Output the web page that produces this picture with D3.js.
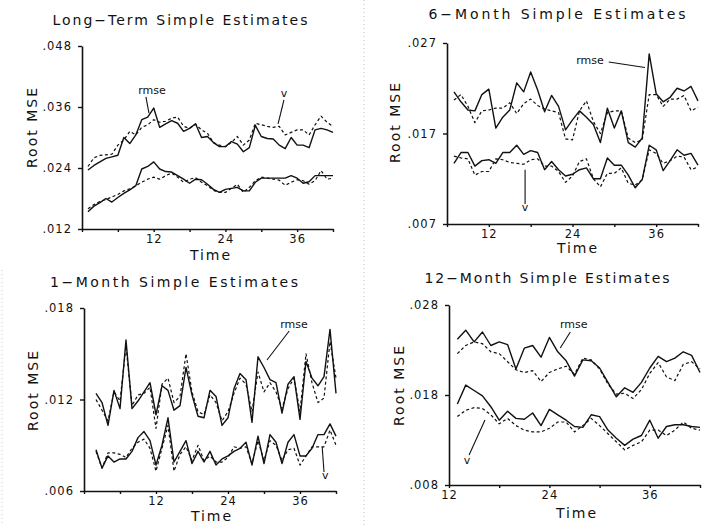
<!DOCTYPE html>
<html>
<head>
<meta charset="utf-8">
<script src="https://cdn.jsdelivr.net/npm/d3@7"></script>
<style>
body { margin: 0; background: #fff; }
svg { display: block; font-family: "DejaVu Sans", sans-serif; }
</style>
</head>
<body>
<svg id="chart" width="712" height="525"></svg>
<script>
// series, one value per time step
const longTermStart = 1;
const longTermRmse = [.0236,.0245,.0252,.0259,.0262,.0265,.0300,.0288,.0305,.0335,.0340,.0358,.0320,.0327,.0333,.0328,.0312,.0318,.0327,.0300,.0302,.0290,.0282,.0282,.0292,.0287,.0272,.0280,.0324,.0302,.0298,.0297,.0285,.0278,.0300,.0285,.0285,.0280,.0315,.0318,.0315,.0310];
const longTermV = [.0243,.0260,.0265,.0266,.0267,.0285,.0295,.0312,.0305,.0320,.0325,.0335,.0330,.0332,.0338,.0340,.0322,.0318,.0326,.0315,.0308,.0290,.0285,.0282,.0290,.0302,.0285,.0295,.0328,.0325,.0322,.0320,.0322,.0305,.0310,.0315,.0315,.0305,.0325,.0342,.0330,.0322];
const longTermRmseLow = [.0154,.0165,.0172,.0180,.0173,.0182,.0190,.0197,.0205,.0238,.0243,.0252,.0238,.0233,.0232,.0225,.0218,.0210,.0218,.0217,.0208,.0198,.0192,.0198,.0200,.0202,.0195,.0195,.0212,.0220,.0220,.0220,.0220,.0220,.0225,.0220,.0210,.0213,.0225,.0225,.0225,.0225];
const longTermVLow = [.0160,.0168,.0174,.0178,.0183,.0188,.0195,.0199,.0205,.0212,.0218,.0222,.0218,.0225,.0230,.0222,.0212,.0218,.0221,.0212,.0205,.0196,.0192,.0192,.0200,.0208,.0192,.0202,.0215,.0222,.0220,.0218,.0216,.0206,.0212,.0217,.0215,.0208,.0215,.0235,.0218,.0220];

const sixMonthStart = 7;
const sixMonthRmse = [.0216,.0205,.0196,.0195,.0213,.0219,.0176,.0188,.0196,.0226,.0216,.0238,.0218,.0194,.0212,.0200,.0174,.0185,.0195,.0188,.0180,.0160,.0198,.0176,.0195,.0160,.0155,.0165,.0258,.0214,.0205,.0210,.0220,.0217,.0222,.0206];
const sixMonthV = [.0207,.0213,.0200,.0182,.0195,.0196,.0198,.0198,.0204,.0192,.0203,.0208,.0201,.0197,.0195,.0193,.0164,.0163,.0195,.0206,.0183,.0170,.0193,.0195,.0195,.0165,.0160,.0163,.0213,.0213,.0200,.0208,.0208,.0212,.0195,.0199];
const sixMonthRmseLow = [.0137,.0149,.0149,.0134,.0140,.0141,.0137,.0149,.0149,.0157,.0147,.0151,.0149,.0130,.0139,.0130,.0123,.0125,.0130,.0132,.0120,.0120,.0143,.0135,.0135,.0124,.0110,.0119,.0157,.0152,.0129,.0140,.0152,.0146,.0148,.0135];
const sixMonthVLow = [.0145,.0143,.0142,.0124,.0128,.0128,.0142,.0141,.0138,.0137,.0136,.0141,.0142,.0134,.0134,.0128,.0116,.0123,.0139,.0142,.0120,.0111,.0126,.0126,.0132,.0115,.0113,.0119,.0152,.0148,.0137,.0140,.0145,.0144,.0130,.0133];

const oneMonthStart = 2;
const oneMonthRmse = [.0124,.0118,.0103,.0126,.0114,.0159,.0114,.0119,.0125,.0131,.0110,.0129,.0126,.0113,.0116,.0141,.0123,.0109,.0108,.0126,.0122,.0103,.0108,.0127,.0137,.0133,.0105,.0148,.0141,.0133,.0131,.0111,.0130,.0135,.0107,.0145,.0134,.0129,.0135,.0166,.0124];
const oneMonthV = [.0120,.0113,.0106,.0125,.0119,.0155,.0116,.0123,.0124,.0128,.0101,.0130,.0134,.0118,.0122,.0150,.0125,.0112,.0110,.0123,.0118,.0106,.0112,.0124,.0134,.0130,.0112,.0138,.0125,.0131,.0125,.0114,.0127,.0134,.0112,.0150,.0131,.0118,.0121,.0158,.0134];
const oneMonthRmseLow = [.0087,.0075,.0083,.0079,.0081,.0081,.0086,.0095,.0099,.0093,.0077,.0090,.0108,.0079,.0086,.0093,.0078,.0086,.0079,.0086,.0077,.0081,.0083,.0086,.0088,.0092,.0077,.0096,.0078,.0097,.0092,.0078,.0092,.0097,.0083,.0083,.0088,.0097,.0097,.0104,.0096];
const oneMonthVLow = [.0086,.0075,.0085,.0085,.0084,.0082,.0088,.0092,.0094,.0088,.0073,.0088,.0103,.0073,.0084,.0089,.0080,.0090,.0080,.0083,.0079,.0079,.0082,.0089,.0088,.0089,.0078,.0093,.0080,.0093,.0090,.0080,.0087,.0088,.0077,.0083,.0089,.0089,.0089,.0100,.0090];

const twelveMonthStart = 13;
const twelveMonthRmse = [.0242,.0252,.0239,.0250,.0235,.0239,.0236,.0209,.0232,.0235,.0222,.0244,.0228,.0218,.0201,.0219,.0218,.0210,.0194,.0178,.0188,.0183,.0194,.0210,.0223,.0217,.0221,.0228,.0224,.0205];
const twelveMonthV = [.0226,.0235,.0239,.0237,.0228,.0226,.0217,.0208,.0205,.0207,.0195,.0205,.0209,.0212,.0203,.0221,.0219,.0209,.0192,.0181,.0182,.0176,.0186,.0204,.0216,.0200,.0196,.0214,.0217,.0209];
const twelveMonthRmseLow = [.0170,.0191,.0185,.0179,.0167,.0152,.0162,.0154,.0153,.0160,.0146,.0164,.0158,.0152,.0145,.0144,.0158,.0156,.0141,.0132,.0124,.0131,.0135,.0152,.0132,.0145,.0147,.0147,.0145,.0144];
const twelveMonthVLow = [.0156,.0163,.0166,.0165,.0158,.0148,.0154,.0146,.0141,.0139,.0139,.0143,.0150,.0150,.0139,.0146,.0154,.0146,.0137,.0128,.0119,.0124,.0128,.0141,.0141,.0135,.0141,.0150,.0143,.0141];

const longTermYTicks = [0.012, 0.024, 0.036, 0.048];
const sixMonthYTicks = [0.007, 0.017, 0.027];
const oneMonthYTicks = [0.006, 0.012, 0.018];
const twelveMonthYTicks = [0.008, 0.018, 0.028];
const longTermXTicks = [0, 6, 12, 18, 24, 30, 36, 42];
const sixMonthXTicks = [6, 12, 18, 24, 30, 36, 42];
const oneMonthXTicks = [0, 6, 12, 18, 24, 30, 36, 42];
const twelveMonthXTicks = [12, 18, 24, 30, 36, 42];
const xTickLabels = [12, 24, 36];

const titles = ["Long\u2212Term Simple Estimates", "6\u2212Month Simple Estimates",
                "1\u2212Month Simple Estimates", "12\u2212Month Simple Estimates"];

const panels = [
    {
        title: titles[0], start: longTermStart,
        series: [longTermRmse, longTermV, longTermRmseLow, longTermVLow],
        xDomain: [0, 42], xTicks: longTermXTicks, yDomain: [0.012, 0.048], yTicks: longTermYTicks,
        left: 82, right: 333, top: 46, bottom: 229,
        titleX: 180, titleY: 25, titleLen: 255,
        yLabX: 37, yLabY: 128, timeX: 210, timeY: 260,
        labels: [{ text: "rmse", t: 11.7, v: 0.0386 }, { text: "v", t: 33.8, v: 0.0380 }],
        leaders: [[10.7, 0.0380, 11.2, 0.0348], [33.8, 0.0374, 32.8, 0.0327]]
    },
    {
        title: titles[1], start: sixMonthStart,
        series: [sixMonthRmse, sixMonthV, sixMonthRmseLow, sixMonthVLow],
        xDomain: [6, 42], xTicks: sixMonthXTicks, yDomain: [0.007, 0.027], yTicks: sixMonthYTicks,
        left: 447, right: 698, top: 43, bottom: 224,
        titleX: 557, titleY: 19, titleLen: 257,
        yLabX: 400, yLabY: 123, timeX: 577, timeY: 253,
        labels: [{ text: "rmse", t: 26.5, v: 0.0247 }, { text: "v", t: 17.2, v: 0.0084 }],
        leaders: [[29.2, 0.0249, 34.4, 0.0243], [17.2, 0.0130, 17.2, 0.0092]]
    },
    {
        title: titles[2], start: oneMonthStart,
        series: [oneMonthRmse, oneMonthV, oneMonthRmseLow, oneMonthVLow],
        xDomain: [0, 42], xTicks: oneMonthXTicks, yDomain: [0.006, 0.018], yTicks: oneMonthYTicks,
        left: 84, right: 336, top: 308, bottom: 491,
        titleX: 174, titleY: 287, titleLen: 248,
        yLabX: 38, yLabY: 391, timeX: 211, timeY: 521,
        labels: [{ text: "rmse", t: 35.0, v: 0.01669 }, { text: "v", t: 40.2, v: 0.00679 }],
        leaders: [[34.2, 0.01649, 30.5, 0.01459], [39.7, 0.00889, 40.0, 0.00725]]
    },
    {
        title: titles[3], start: twelveMonthStart,
        series: [twelveMonthRmse, twelveMonthV, twelveMonthRmseLow, twelveMonthVLow],
        xDomain: [12, 42], xTicks: twelveMonthXTicks, yDomain: [0.008, 0.028], yTicks: twelveMonthYTicks,
        left: 449, right: 700, top: 305, bottom: 485,
        titleX: 547, titleY: 283, titleLen: 245,
        yLabX: 404, yLabY: 386, timeX: 576, timeY: 518,
        labels: [{ text: "rmse", t: 26.9, v: 0.02544 }, { text: "v", t: 14.15, v: 0.01033 }],
        leaders: [[26.5, 0.0250, 25.3, 0.02322], [14.4, 0.01133, 16.3, 0.01522]]
    }
];

const svg = d3.select("#chart");
const ink = "#111";

// faint page edges from the scan
svg.append("line").attr("x1", 364).attr("x2", 364).attr("y1", 0).attr("y2", 525)
    .attr("stroke", "#bbb").attr("stroke-width", 1).attr("stroke-dasharray", "1,3");
svg.append("line").attr("x1", 2).attr("x2", 2).attr("y1", 270).attr("y2", 525)
    .attr("stroke", "#ccc").attr("stroke-width", 1).attr("stroke-dasharray", "1,3");

function drawPanel(p) {
    const g = svg.append("g");
    const x = d3.scaleLinear().domain(p.xDomain).range([p.left, p.right]);
    const y = d3.scaleLinear().domain(p.yDomain).range([p.bottom, p.top]);

    const yAxis = g.append("g")
        .attr("transform", `translate(${p.left},0)`)
        .call(d3.axisLeft(y).tickValues(p.yTicks).tickSize(4).tickSizeOuter(0).tickPadding(6)
            .tickFormat(d => d3.format(".3f")(d).slice(1)));

    const xAxis = g.append("g")
        .attr("transform", `translate(0,${p.bottom})`)
        .call(d3.axisBottom(x).tickValues(p.xTicks).tickSize(3).tickSizeOuter(0).tickPadding(3)
            .tickFormat(d => xTickLabels.includes(d) ? d : ""));

    [yAxis, xAxis].forEach(a => {
        a.attr("font-family", null).attr("font-size", null);
        a.select(".domain").attr("stroke", ink).attr("stroke-width", 1.6);
        a.selectAll(".tick line").attr("stroke", ink).attr("stroke-width", 1.4);
        a.selectAll(".tick text").attr("fill", ink).attr("font-size", "11.5px")
            .attr("letter-spacing", "1px");
    });

    const line = d3.line()
        .x((d, i) => x(p.start + i))
        .y(d => y(d));

    p.series.forEach((s, k) => {
        g.append("path")
            .datum(s)
            .attr("d", line)
            .attr("fill", "none")
            .attr("stroke", ink)
            .attr("stroke-width", k % 2 ? 1.2 : 1.4)
            .attr("stroke-linejoin", "round")
            .attr("stroke-dasharray", k % 2 ? "3,2.5" : null);
    });

    g.append("text")
        .attr("x", p.titleX).attr("y", p.titleY)
        .attr("text-anchor", "middle")
        .attr("font-size", "14px")
        .attr("fill", ink)
        .attr("textLength", p.titleLen)
        .attr("lengthAdjust", "spacing")
        .text(p.title);

    g.append("text")
        .attr("transform", `translate(${p.yLabX},${p.yLabY}) rotate(-90)`)
        .attr("text-anchor", "middle")
        .attr("font-size", "14px")
        .attr("fill", ink)
        .attr("textLength", 80)
        .attr("lengthAdjust", "spacing")
        .text("Root MSE");

    g.append("text")
        .attr("x", p.timeX).attr("y", p.timeY)
        .attr("text-anchor", "middle")
        .attr("font-size", "14px")
        .attr("fill", ink)
        .attr("textLength", 40)
        .attr("lengthAdjust", "spacing")
        .text("Time");

    g.selectAll(".lead")
        .data(p.leaders)
        .enter().append("line")
        .attr("x1", d => x(d[0])).attr("y1", d => y(d[1]))
        .attr("x2", d => x(d[2])).attr("y2", d => y(d[3]))
        .attr("stroke", ink).attr("stroke-width", 1.1);

    g.selectAll(".ann")
        .data(p.labels)
        .enter().append("text")
        .attr("x", d => x(d.t)).attr("y", d => y(d.v))
        .attr("text-anchor", "middle")
        .attr("font-size", "11px")
        .attr("fill", ink)
        .text(d => d.text);
}

panels.forEach(drawPanel);
</script>
</body>
</html>
